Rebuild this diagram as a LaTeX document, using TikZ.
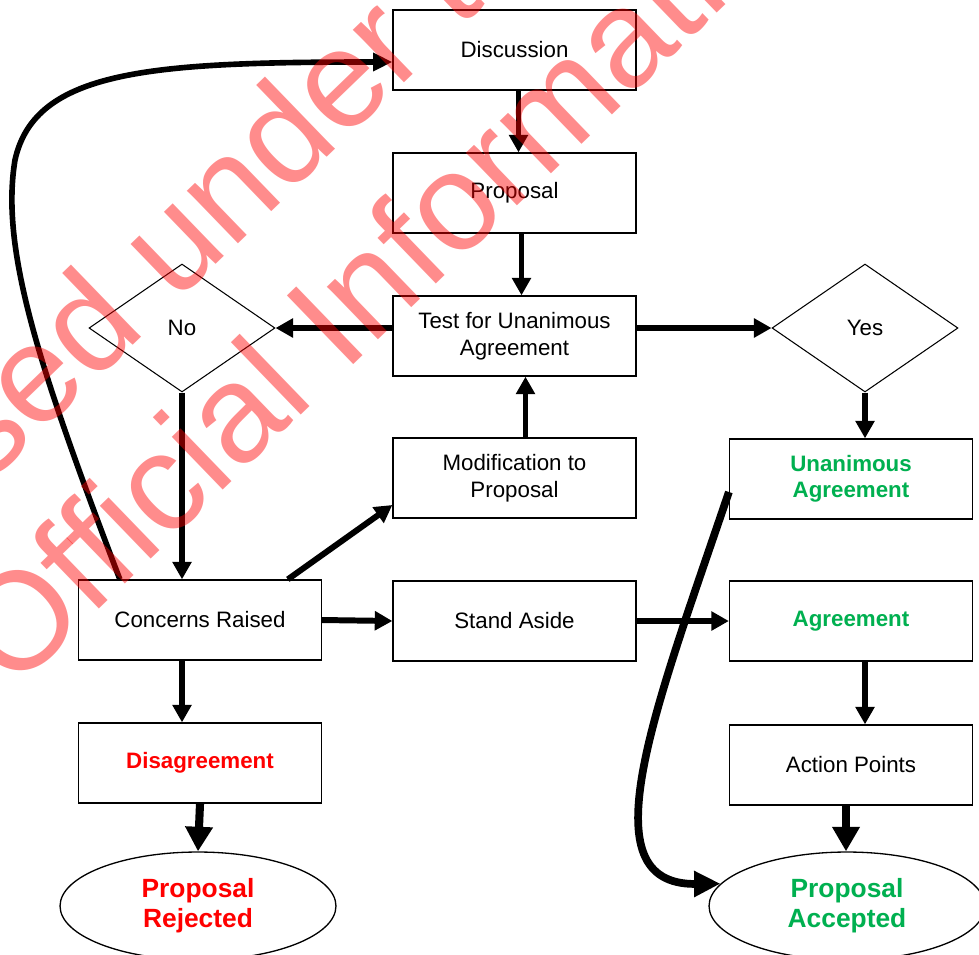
\documentclass[tikz,border=0pt]{standalone}
\usepackage{fontspec}
\setsansfont{Liberation Sans}
\usetikzlibrary{arrows.meta, shapes.geometric}
\definecolor{cred}{HTML}{FF0000}
\definecolor{cgreen}{HTML}{00B050}
\tikzset{
  every picture/.style={font=\sffamily},
  box/.style={draw, line width=0.75pt, fill=white, align=center, inner sep=2pt,
    minimum width=4.86cm, minimum height=1.6cm, font=\sffamily\fontsize{12.7}{15.1}\selectfont},
  choice/.style={draw, diamond, line width=0.6pt, inner sep=0pt, aspect=1.45,
    minimum width=3.72cm, minimum height=2.56cm, font=\sffamily\fontsize{12.7}{15.1}\selectfont},
  goal/.style={draw, ellipse, line width=0.75pt, fill=white, align=center, inner sep=0pt,
    minimum width=5.52cm, minimum height=2.16cm, font=\sffamily\bfseries\fontsize{15}{17}\selectfont},
  arrow/.style={-{Triangle[length=10pt, width=10.5pt]}, line width=3.4pt},
  bigarrow/.style={-{Triangle[length=14pt, width=15pt]}, line width=4.6pt},
  loop/.style={-{Triangle[length=11pt, width=10pt]}, line width=3.2pt},
  stamp/.style={anchor=base west, rotate=44, inner sep=0pt, text=cred, text opacity=0.45,
    font=\sffamily\fontsize{79}{90}\selectfont},
}

\begin{document}
\begin{tikzpicture}[x=0.02cm, y=-0.02cm]
  \useasboundingbox (0,0) rectangle (979,954);
  \clip (0,0) rectangle (979,954);
  % middle column
  \node[box] (disc) at (514.5,50) {Discussion};
  \node[box] (prop) at (514.5,193) {Proposal};
  \node[box] (test) at (514.5,336) {Test for Unanimous\\Agreement};
  \node[box] (mod) at (514.5,478) {Modification to\\Proposal};
  \node[box] (stand) at (514.5,621) {Stand Aside};
  % left column
  \node[choice] (no) at (182,328) {No};
  \node[box] (conc) at (200,620) {Concerns Raised};
  \node[box, text=cred, font=\sffamily\bfseries\fontsize{12.7}{15.1}\selectfont] (dis) at (200,763) {Disagreement};
  \node[goal, text=cred] (rej) at (198,906) {Proposal\\Rejected};
  % right column
  \node[choice] (yes) at (865,328) {Yes};
  \node[box, text=cgreen, font=\sffamily\bfseries\fontsize{12.7}{15.1}\selectfont] (una) at (851,479) {Unanimous\\Agreement};
  \node[box, text=cgreen, font=\sffamily\bfseries\fontsize{12.7}{15.1}\selectfont] (agr) at (851,621) {Agreement};
  \node[box] (act) at (851,765) {Action Points};
  \node[goal, text=cgreen] (acc) at (847,906) {Proposal\\Accepted};

  % straight links
  \draw[arrow] ([xshift=0.08cm]disc.south) -- ([xshift=0.08cm]prop.north);
  \draw[arrow] ([xshift=0.14cm]prop.south) -- ([xshift=0.14cm]test.north);
  \draw[arrow] (test.west |- no.east) -- (no.east);
  \draw[arrow] (test.east |- yes.west) -- (yes.west);
  \draw[arrow] (yes.south) -- (yes.south |- una.north);
  \draw[arrow] (no.south) -- (no.south |- conc.north);
  \draw[arrow] ([xshift=0.22cm]mod.north) -- ([xshift=0.22cm]test.south);
  \draw[arrow] ([xshift=4.2cm]conc.north west) -- ([yshift=-0.54cm]mod.west);
  \draw[arrow] (conc.east) -- (stand.west);
  \draw[arrow] (stand.east) -- (agr.west);
  \draw[arrow] ([xshift=-0.36cm]conc.south) -- ([xshift=-0.36cm]dis.north);
  \draw[arrow] ([xshift=0.28cm]agr.south) -- ([xshift=0.28cm]act.north);
  \draw[bigarrow] (dis.south) -- (rej.north);
  \draw[bigarrow] ([xshift=-0.1cm]act.south) -- ([xshift=-0.1cm]act.south |- acc.north);

  % curved links
  \draw[loop] ([xshift=0.84cm]conc.north west) .. controls (40,370) and (0,250) .. (15,160)
    .. controls (35,70) and (150,62) .. ([yshift=-0.24cm]disc.west);
  \draw[loop, line width=4.4pt, -{Triangle[length=15pt, width=14pt]}]
    ([yshift=-0.26cm]una.west) .. controls (655,710) and (585,885) .. (acc.170);

  % watermark
  \node[stamp] (wm1) at (-274,738) {Released under the};
  \node[stamp] (wm2) at (13,693) {Official Information Act};
\end{tikzpicture}
\end{document}
